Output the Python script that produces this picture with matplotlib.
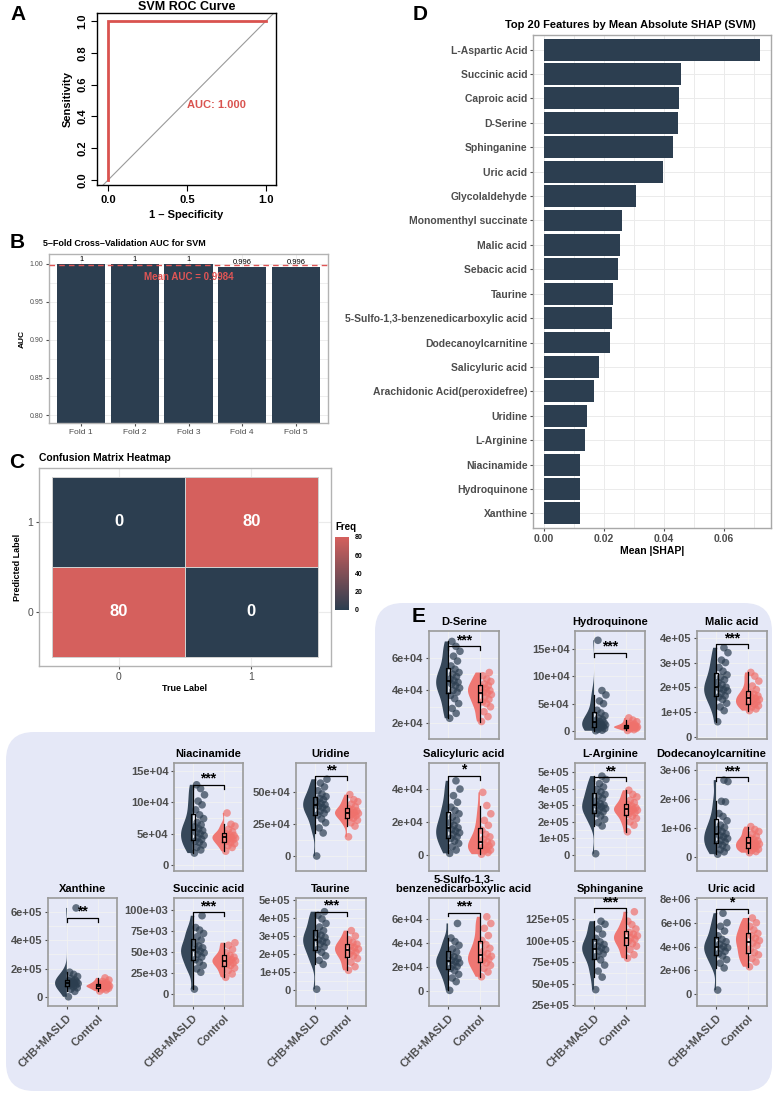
import numpy as np
import matplotlib.pyplot as plt
from matplotlib.patches import FancyBboxPatch
from matplotlib.colors import LinearSegmentedColormap

plt.rcParams['font.family'] = ['Liberation Sans', 'DejaVu Sans']

NAVY = '#2C3E50'
RED = '#D9534F'
TILE_RED = '#D5605D'
SALMON = '#F0716C'
GRAY_TXT = '#4D4D4D'
LAVENDER = '#E5E8F7'

# ---------------- data ----------------
# A: ROC
roc_fpr = [0.0, 0.0, 1.0]
roc_tpr = [0.0, 1.0, 1.0]
auc_value = 1.000

# B: CV AUC
folds = ['Fold 1', 'Fold 2', 'Fold 3', 'Fold 4', 'Fold 5']
fold_auc = [1.0, 1.0, 1.0, 0.996, 0.996]
fold_auc_labels = ['1', '1', '1', '0.996', '0.996']
mean_auc = 0.9984

# C: confusion matrix (rows = predicted 0/1, cols = true 0/1)
cm_labels = ['0', '1']
cm_freq = [[80, 0],
           [0, 80]]

# D: SHAP importance
features = ['L-Aspartic Acid', 'Succinic acid', 'Caproic acid', 'D-Serine', 'Sphinganine',
            'Uric acid', 'Glycolaldehyde', 'Monomenthyl succinate', 'Malic acid', 'Sebacic acid',
            'Taurine', '5-Sulfo-1,3-benzenedicarboxylic acid', 'Dodecanoylcarnitine',
            'Salicyluric acid', 'Arachidonic Acid(peroxidefree)', 'Uridine', 'L-Arginine',
            'Niacinamide', 'Hydroquinone', 'Xanthine']
mean_shap = [0.0720, 0.0456, 0.0450, 0.0446, 0.0431, 0.0396, 0.0307, 0.0260, 0.0254, 0.0248,
             0.0231, 0.0227, 0.0220, 0.0183, 0.0166, 0.0144, 0.0136, 0.0122, 0.0121, 0.0120]

# E: metabolite levels (CHB+MASLD vs Control)
groups = ['CHB+MASLD', 'Control']

dserine_chb = [23000, 26000, 29000, 32000, 35000, 37000, 39000, 40000, 41500, 43000, 44000, 45000,
               46000, 47000, 48500, 50000, 51000, 53000, 55000, 58000, 61000, 64000, 67000, 70000]
dserine_ctrl = [21000, 24000, 27000, 30000, 32000, 33000, 34500, 36000, 37500, 38500, 39000, 40000,
                41000, 42000, 43000, 44000, 45500, 47000, 49000, 51000]

hydroq_chb = [500, 1500, 3000, 4500, 6000, 7000, 8500, 10000, 11000, 12000, 13500, 15000, 17000,
              19000, 21000, 24000, 28000, 33000, 38000, 50000, 55000, 66000, 74000, 166000]
hydroq_ctrl = [1000, 2500, 4000, 5000, 5500, 6000, 6500, 7000, 7500, 8000, 8500, 9000, 10000,
               11000, 12500, 14000, 17000, 20000, 24000]

malic_chb = [60000, 105000, 120000, 135000, 150000, 160000, 165000, 175000, 185000, 190000, 195000,
             200000, 210000, 220000, 230000, 240000, 250000, 265000, 280000, 300000, 310000,
             340000, 360000]
malic_ctrl = [105000, 112000, 120000, 125000, 130000, 135000, 140000, 145000, 150000, 155000,
              160000, 165000, 172000, 178000, 190000, 205000, 225000, 245000, 260000]

salicyl_chb = [1000, 3000, 5000, 7000, 8500, 10000, 11000, 12500, 13500, 14500, 15500, 16500, 18000,
               19500, 21000, 23000, 25000, 27000, 29000, 32000, 36000, 40000, 45000]
salicyl_ctrl = [500, 1500, 2500, 3000, 3500, 4500, 5500, 6000, 7000, 8000, 9500, 11000, 12500,
                15000, 18000, 21000, 25000, 30000, 38000]

larg_chb = [8000, 175000, 195000, 215000, 235000, 250000, 260000, 270000, 280000, 290000, 295000,
            300000, 310000, 325000, 340000, 355000, 365000, 380000, 395000, 410000, 430000,
            455000, 475000]
larg_ctrl = [140000, 180000, 200000, 220000, 235000, 245000, 255000, 265000, 270000, 275000,
             280000, 285000, 295000, 305000, 315000, 330000, 350000, 365000, 390000]

dodec_chb = [100000, 180000, 250000, 320000, 400000, 450000, 520000, 580000, 640000, 700000,
             740000, 800000, 880000, 950000, 1020000, 1100000, 1250000, 1400000, 1500000,
             1900000, 1920000, 2600000, 2650000]
dodec_ctrl = [150000, 190000, 230000, 270000, 300000, 340000, 380000, 420000, 450000, 480000,
              520000, 560000, 600000, 650000, 720000, 800000, 880000, 950000, 1050000]

niacin_chb = [19000, 24000, 28000, 32000, 36000, 38000, 41000, 44000, 47000, 50000, 52000, 55000,
              58000, 61000, 64000, 68000, 74000, 80000, 88000, 96000, 102000, 112000, 122000, 128000]
niacin_ctrl = [22000, 28000, 31000, 34000, 36000, 38000, 40000, 42000, 43000, 44000, 46000, 47000,
               48000, 50000, 53000, 57000, 62000, 65000, 83000]

uridine_chb = [0, 180000, 220000, 260000, 290000, 320000, 335000, 350000, 365000, 380000, 390000,
               400000, 410000, 425000, 440000, 450000, 465000, 485000, 510000, 540000, 570000, 600000]
uridine_ctrl = [150000, 234000, 260000, 280000, 295000, 305000, 315000, 325000, 333000, 338000,
                345000, 352000, 360000, 370000, 385000, 405000, 425000, 440000, 480000]

xanth_chb = [2000, 40000, 55000, 65000, 72000, 80000, 85000, 90000, 95000, 98000, 102000, 106000,
             110000, 115000, 120000, 130000, 145000, 160000, 175000, 628000]
xanth_ctrl = [42000, 50000, 57000, 62000, 66000, 70000, 73000, 76000, 78000, 80000, 83000, 87000,
              92000, 96000, 102000, 110000, 120000, 135000]

succ_chb = [6000, 26000, 30000, 34000, 38000, 41000, 44000, 47000, 49000, 51000, 53000, 55000,
            57000, 60000, 64000, 68000, 72000, 76000, 79000, 93000]
succ_ctrl = [20000, 24000, 28000, 31000, 34000, 35500, 37000, 38500, 39500, 41000, 42500, 44000,
             46000, 49000, 53000, 58000, 61000]

taurine_chb = [5000, 143000, 165000, 190000, 210000, 225000, 240000, 255000, 265000, 272000,
               280000, 292000, 305000, 315000, 330000, 350000, 370000, 395000, 415000, 435000]
taurine_ctrl = [110000, 130000, 155000, 175000, 190000, 200000, 210000, 220000, 228000, 236000,
                245000, 255000, 265000, 280000, 300000, 330000]

sulfo_chb = [800, 8000, 11000, 14000, 17000, 19000, 20500, 22000, 23500, 24500, 25500, 27000,
             28500, 30000, 32500, 35000, 38000, 41000, 44000, 56000]
sulfo_ctrl = [12000, 16000, 19000, 21500, 23500, 25000, 26500, 27500, 29000, 31000, 33000, 35500,
              38500, 42000, 46000, 52000, 56000, 61500]

sphing_chb = [4340000, 5800000, 6500000, 7200000, 7800000, 8200000, 8500000, 8800000, 9000000,
              9200000, 9400000, 9600000, 9900000, 10300000, 10800000, 11400000, 11950000, 12300000]
sphing_ctrl = [8000000, 8400000, 9000000, 9400000, 9700000, 10000000, 10200000, 10400000, 10600000,
               10800000, 11000000, 11400000, 11900000, 12300000, 13400000]

uric_chb = [340000, 2200000, 2600000, 2900000, 3200000, 3400000, 3600000, 3800000, 3900000,
            4000000, 4200000, 4400000, 4600000, 4900000, 5300000, 5700000, 6000000, 6800000]
uric_ctrl = [2300000, 2700000, 3000000, 3300000, 3500000, 3800000, 4100000, 4300000, 4500000,
             4700000, 4900000, 5100000, 5400000, 5700000, 6000000, 6400000]

# name, chb, control, y ticks, y tick labels, bracket height, stars
panels_e = [
    ('D-Serine', dserine_chb, dserine_ctrl, [20000, 40000, 60000], ['2e+04', '4e+04', '6e+04'], 67000, '***'),
    ('Hydroquinone', hydroq_chb, hydroq_ctrl, [0, 50000, 100000, 150000], ['0', '5e+04', '10e+04', '15e+04'], 143000, '***'),
    ('Malic acid', malic_chb, malic_ctrl, [0, 1e5, 2e5, 3e5, 4e5], ['0', '1e+05', '2e+05', '3e+05', '4e+05'], 374000, '***'),
    ('Niacinamide', niacin_chb, niacin_ctrl, [0, 5e4, 10e4, 15e4], ['0', '5e+04', '10e+04', '15e+04'], 128000, '***'),
    ('Uridine', uridine_chb, uridine_ctrl, [0, 25e4, 50e4], ['0', '25e+04', '50e+04'], 625000, '**'),
    ('Salicyluric acid', salicyl_chb, salicyl_ctrl, [0, 2e4, 4e4], ['0', '2e+04', '4e+04'], 48000, '*'),
    ('L-Arginine', larg_chb, larg_ctrl, [0, 1e5, 2e5, 3e5, 4e5, 5e5], ['0', '1e+05', '2e+05', '3e+05', '4e+05', '5e+05'], 470000, '**'),
    ('Dodecanoylcarnitine', dodec_chb, dodec_ctrl, [0, 1e6, 2e6, 3e6], ['0', '1e+06', '2e+06', '3e+06'], 2760000, '***'),
    ('Xanthine', xanth_chb, xanth_ctrl, [0, 2e5, 4e5, 6e5], ['0', '2e+05', '4e+05', '6e+05'], 558000, '**'),
    ('Succinic acid', succ_chb, succ_ctrl, [0, 25e3, 50e3, 75e3, 100e3], ['0', '25e+03', '50e+03', '75e+03', '100e+03'], 97000, '***'),
    ('Taurine', taurine_chb, taurine_ctrl, [0, 1e5, 2e5, 3e5, 4e5, 5e5], ['0', '1e+05', '2e+05', '3e+05', '4e+05', '5e+05'], 434000, '***'),
    ('5-Sulfo-1,3-\nbenzenedicarboxylic acid', sulfo_chb, sulfo_ctrl, [0, 2e4, 4e4, 6e4], ['0', '2e+04', '4e+04', '6e+04'], 65000, '***'),
    ('Sphinganine', sphing_chb, sphing_ctrl, [25e5, 50e5, 75e5, 100e5, 125e5], ['25e+05', '50e+05', '75e+05', '100e+05', '125e+05'], 13800000, '***'),
    ('Uric acid', uric_chb, uric_ctrl, [0, 2e6, 4e6, 6e6, 8e6], ['0', '2e+06', '4e+06', '6e+06', '8e+06'], 7170000, '*'),
]

# ---------------- layout (pixels) ----------------
W, H = 775, 1094
cols_px = [(48, 117), (174, 243), (296, 366), (429, 499), (575, 645), (697, 767)]
rows_px = [(631, 739), (763, 871), (898, 1006)]
e_layout = [(0, 3), (0, 4), (0, 5), (1, 1), (1, 2), (1, 3), (1, 4), (1, 5),
            (2, 0), (2, 1), (2, 2), (2, 3), (2, 4), (2, 5)]
e_ylims = [(10300, 76400), (-14600, 183000), (-10000, 428000), (-9600, 162800), (-117000, 727000),
           (-9700, 55800), (-96000, 554000), (-480000, 3240000), (-63000, 698000), (-14000, 114000),
           (-88000, 511000), (-12100, 77000), (2440000, 15000000), (-1000000, 8080000)]
e_title_x = {'Dodecanoylcarnitine': 0.2}

fig = plt.figure(figsize=(W / 100, H / 100), dpi=100)


def add_px(x0, y0, x1, y1, **kw):
    return fig.add_axes([x0 / W, 1 - y1 / H, (x1 - x0) / W, (y1 - y0) / H], **kw)


# lavender background for E
bg = fig.add_axes([0, 0, 1, 1], zorder=-10)
bg.set_xlim(0, W)
bg.set_ylim(H, 0)
bg.axis('off')
bg.add_patch(FancyBboxPatch((375, 603), 397, 488, boxstyle='round,pad=0,rounding_size=28',
                            fc=LAVENDER, ec='none'))
bg.add_patch(FancyBboxPatch((6, 732), 766, 359, boxstyle='round,pad=0,rounding_size=28',
                            fc=LAVENDER, ec='none'))

# panel letters
for letter, (lx, ly) in zip('ABCDE', [(10, 15), (10, 242), (9, 463), (413, 15), (412, 616)]):
    fig.text(lx / W, 1 - ly / H, letter, fontsize=15, fontweight='bold', ha='left', va='center')

# ---------------- A: ROC ----------------
ax = add_px(97, 13, 276, 185)
ax.plot(roc_fpr, roc_tpr, color=RED, lw=2, solid_joinstyle='miter', zorder=3)
ax.axline((0, 0), (1, 1), color='#9A9A9A', lw=0.8)
ax.set_xlim(-0.07, 1.063)
ax.set_ylim(-0.031, 1.05)
ax.set_xticks([0, 0.5, 1.0])
ax.set_xticklabels(['0.0', '0.5', '1.0'])
ax.set_yticks([0, 0.2, 0.4, 0.6, 0.8, 1.0])
ax.set_yticklabels(['0.0', '0.2', '0.4', '0.6', '0.8', '1.0'], rotation=90, va='center')
ax.tick_params(labelsize=8, length=4, width=0.8, pad=3)
for t in ax.get_xticklabels() + ax.get_yticklabels():
    t.set_fontweight('bold')
ax.text(0.5, 0.47, 'AUC: %.3f' % auc_value, color=RED, fontsize=8, fontweight='bold',
        ha='left', va='center')
ax.set_title('SVM ROC Curve', fontsize=9, fontweight='bold', pad=2)
ax.set_xlabel('1 – Specificity', fontsize=8, fontweight='bold', labelpad=4)
ax.set_ylabel('Sensitivity', fontsize=8, fontweight='bold', labelpad=3)
for s in ax.spines.values():
    s.set_linewidth(1)

# ---------------- B: CV AUC ----------------
ax = add_px(49, 254, 328, 423)
xb = np.arange(1, len(folds) + 1)
ax.bar(xb, fold_auc, width=0.9, color=NAVY, zorder=2)
ax.axhline(mean_auc, color='#E05555', lw=1, dashes=(4, 3), zorder=3)
for xi, v, lab in zip(xb, fold_auc, fold_auc_labels):
    ax.text(xi, v + 0.0012, lab, fontsize=5.5, ha='center', va='bottom')
ax.text(3, 0.982, 'Mean AUC = %.4f' % mean_auc, color='#E05555', fontsize=7, fontweight='bold',
        ha='center', va='center', zorder=4)
ax.set_xlim(0.4, 5.6)
ax.set_ylim(0.79, 1.013)
ax.set_xticks(xb)
ax.set_xticklabels(folds)
ax.set_yticks([0.80, 0.85, 0.90, 0.95, 1.00])
ax.set_yticklabels(['0.80', '0.85', '0.90', '0.95', '1.00'])
ax.set_yticks([0.825, 0.875, 0.925, 0.975], minor=True)
ax.tick_params(axis='y', labelsize=5, colors=GRAY_TXT, length=2, pad=2)
ax.tick_params(axis='x', labelsize=6, colors=GRAY_TXT, length=2, pad=2)
ax.tick_params(which='minor', length=0)
ax.grid(True, which='both', color='#EBEBEB', lw=0.6)
ax.set_axisbelow(True)
ax.set_ylabel('AUC', fontsize=6, fontweight='bold', labelpad=3)
for s in ax.spines.values():
    s.set_color('#B3B3B3')
    s.set_linewidth(1)
fig.text(43 / W, 1 - 243 / H, '5–Fold Cross–Validation AUC for SVM', fontsize=6.5,
         fontweight='bold', ha='left', va='center')

# ---------------- C: confusion matrix ----------------
ax = add_px(39, 468, 331, 666)
cmap = LinearSegmentedColormap.from_list('cm', [NAVY, TILE_RED])
edges = np.array([-0.5, 0.5, 1.5])
mesh = ax.pcolormesh(edges, edges, np.array(cm_freq), cmap=cmap, vmin=0, vmax=80,
                     edgecolors='#D0D0D0', linewidth=0.6, zorder=2)
for i in range(2):
    for j in range(2):
        ax.text(j, i, str(cm_freq[i][j]), color='white', fontsize=12, fontweight='bold',
                ha='center', va='center', zorder=3)
ax.set_xlim(-0.6, 1.6)
ax.set_ylim(-0.6, 1.6)
ax.set_xticks([0, 1])
ax.set_xticklabels(cm_labels)
ax.set_yticks([0, 1])
ax.set_yticklabels(cm_labels)
ax.tick_params(labelsize=7.5, colors=GRAY_TXT, length=2, pad=2)
ax.grid(True, color='#EBEBEB', lw=0.8)
ax.set_axisbelow(True)
ax.set_xlabel('True Label', fontsize=6.5, fontweight='bold', labelpad=2)
ax.set_ylabel('Predicted Label', fontsize=6.5, fontweight='bold', labelpad=4)
for s in ax.spines.values():
    s.set_color('#B3B3B3')
    s.set_linewidth(1)
fig.text(39 / W, 1 - 458 / H, 'Confusion Matrix Heatmap', fontsize=7.5, fontweight='bold',
         ha='left', va='center')
cax = add_px(335, 537, 349, 610)
cb = fig.colorbar(mesh, cax=cax, ticks=[0, 20, 40, 60, 80])
cb.outline.set_visible(False)
cax.tick_params(labelsize=5, length=2, color='white', pad=2)
for t in cax.get_yticklabels():
    t.set_fontweight('bold')
fig.text(335 / W, 1 - 527 / H, 'Freq', fontsize=7, fontweight='bold', ha='left', va='center')

# ---------------- D: SHAP ----------------
ax = add_px(533, 35, 771, 528)
yd = np.arange(len(features))[::-1]
ax.barh(yd, mean_shap, height=0.9, color=NAVY, zorder=2)
ax.set_yticks(yd)
ax.set_yticklabels(features)
ax.set_ylim(-0.6, len(features) - 0.4)
ax.set_xlim(-0.0036, 0.0757)
ax.set_xticks([0, 0.02, 0.04, 0.06])
ax.set_xticklabels(['0.00', '0.02', '0.04', '0.06'])
ax.set_xticks([0.01, 0.03, 0.05, 0.07], minor=True)
ax.tick_params(labelsize=7.5, colors=GRAY_TXT, length=2, pad=2)
ax.tick_params(which='minor', length=0)
for t in ax.get_xticklabels() + ax.get_yticklabels():
    t.set_fontweight('bold')
ax.grid(True, which='both', color='#EBEBEB', lw=0.7)
ax.set_axisbelow(True)
ax.set_xlabel('Mean |SHAP|', fontsize=7.5, fontweight='bold', labelpad=2)
for s in ax.spines.values():
    s.set_color('#A8A8A8')
    s.set_linewidth(1)
fig.text(630 / W, 1 - 25 / H, 'Top 20 Features by Mean Absolute SHAP (SVM)', fontsize=8,
         fontweight='bold', ha='center', va='center')


# ---------------- E: raincloud panels ----------------
def raincloud(ax, chb, ctrl, ylim, ticks, ticklabels, br_y, stars):
    ax.set_facecolor('none')
    for k, (vals, col) in enumerate([(chb, NAVY), (ctrl, SALMON)]):
        pos = k + 1
        vals = np.asarray(vals, dtype=float)
        vp = ax.violinplot(vals, positions=[pos], widths=0.75, showextrema=False, bw_method=0.4)
        for body in vp['bodies']:
            verts = body.get_paths()[0].vertices
            verts[:, 0] = np.minimum(verts[:, 0], pos)
            body.set_facecolor(col)
            body.set_edgecolor('none')
            body.set_alpha(0.95)
            body.set_zorder(2)
        n = len(vals)
        xs = pos + 0.05 + 0.33 * ((np.arange(n) * 0.618034) % 1)
        ax.scatter(xs, vals, s=30, color=col, alpha=0.7, edgecolors='none', zorder=3)
        ax.boxplot(vals, positions=[pos], widths=0.13, showfliers=False, showcaps=False,
                   manage_ticks=False, zorder=4,
                   boxprops=dict(color='black', lw=0.9),
                   whiskerprops=dict(color='black', lw=0.9),
                   medianprops=dict(color='black', lw=1.3))
    rng = ylim[1] - ylim[0]
    d = 0.035 * rng
    ax.plot([1, 1, 2, 2], [br_y - d, br_y, br_y, br_y - d], color='black', lw=0.9, zorder=5)
    ax.text(1.5, br_y - 0.01 * rng, stars, fontsize=10, fontweight='bold', ha='center',
            va='bottom', zorder=5)
    ax.set_xlim(0.4, 2.6)
    ax.set_ylim(*ylim)
    ax.set_xticks([1, 2])
    ax.set_yticks(ticks)
    ax.set_yticklabels(ticklabels)
    mids = [(a + b) / 2 for a, b in zip(ticks[:-1], ticks[1:])]
    ax.set_yticks(mids, minor=True)
    ax.tick_params(axis='y', labelsize=8, colors=GRAY_TXT, length=2, pad=2)
    ax.tick_params(which='minor', length=0)
    for t in ax.get_yticklabels():
        t.set_fontweight('bold')
    ax.grid(True, which='both', color='#F2F2F2', lw=0.6)
    ax.set_axisbelow(True)
    for s in ax.spines.values():
        s.set_color('#9A9A9A')
        s.set_linewidth(1.2)


for (name, chb, ctrl, ticks, tlabs, br_y, stars), (r, c), ylim in zip(panels_e, e_layout, e_ylims):
    x0, x1 = cols_px[c]
    y0, y1 = rows_px[r]
    ax = add_px(x0, y0, x1, y1)
    raincloud(ax, chb, ctrl, ylim, ticks, tlabs, br_y, stars)
    ttl = ax.set_title(name, fontsize=8, fontweight='bold', pad=4, linespacing=1.0)
    if name in e_title_x:
        ttl.set_x(e_title_x[name])
    if r == 2:
        ax.set_xticklabels(groups, rotation=45, ha='right', rotation_mode='anchor')
        ax.tick_params(axis='x', labelsize=8, colors=GRAY_TXT, length=2, pad=3)
        for t in ax.get_xticklabels():
            t.set_fontweight('bold')
    else:
        ax.set_xticklabels([])
        ax.tick_params(axis='x', length=0)

fig.savefig('out.png', dpi=100)
